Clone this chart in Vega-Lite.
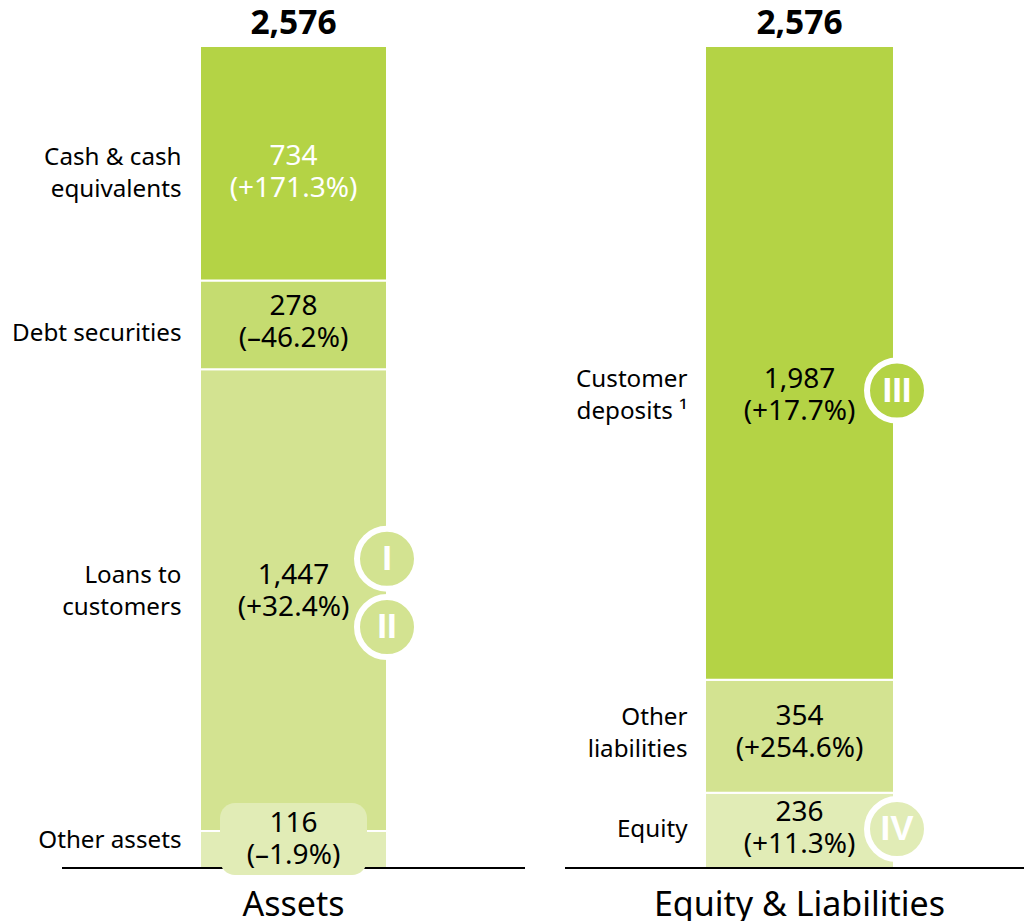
{"$schema":"https://vega.github.io/schema/vega-lite/v6.json","width":1024,"height":921,"autosize":"none","padding":0,"background":"white","view":{"stroke":null},"config":{"text":{"font":"Noto Sans"},"axis":{"labelFont":"Noto Sans"}},"datasets":{"segments":[{"column":"Assets","item":"Other assets","start":0,"end":116,"share":"4"},{"column":"Assets","item":"Loans to customers","start":116,"end":1563,"share":"3"},{"column":"Assets","item":"Debt securities","start":1563,"end":1841,"share":"2"},{"column":"Assets","item":"Cash & cash equivalents","start":1841,"end":2576,"share":"1"},{"column":"Equity & Liabilities","item":"Equity","start":0,"end":236,"share":"4"},{"column":"Equity & Liabilities","item":"Other liabilities","start":236,"end":590,"share":"3"},{"column":"Equity & Liabilities","item":"Customer deposits","start":590,"end":2576,"share":"1"}],"names":[{"column":"Assets","name":"Cash & cash\nequivalents","at":2225},{"column":"Assets","name":"Debt securities","at":1674},{"column":"Assets","name":"Loans to\ncustomers","at":915},{"column":"Assets","name":"Other assets","at":85},{"column":"Equity & Liabilities","name":"Customer\ndeposits ¹","at":1530},{"column":"Equity & Liabilities","name":"Other\nliabilities","at":470},{"column":"Equity & Liabilities","name":"Equity","at":118}],"values":[{"column":"Assets","label":"734\n(+171.3%)","at":2228,"tone":"light"},{"column":"Assets","label":"278\n(–46.2%)","at":1758,"tone":"dark"},{"column":"Assets","label":"1,447\n(+32.4%)","at":915,"tone":"dark"},{"column":"Assets","label":"116\n(–1.9%)","at":138,"tone":"dark"},{"column":"Equity & Liabilities","label":"1,987\n(+17.7%)","at":1530,"tone":"dark"},{"column":"Equity & Liabilities","label":"354\n(+254.6%)","at":473,"tone":"dark"},{"column":"Equity & Liabilities","label":"236\n(+11.3%)","at":173,"tone":"dark"}],"badges":[{"column":"Assets","badge":"I","at":969,"share":"3"},{"column":"Assets","badge":"II","at":755,"share":"3"},{"column":"Equity & Liabilities","badge":"III","at":1496,"share":"1"},{"column":"Equity & Liabilities","badge":"IV","at":122,"share":"4"}],"totals":[{"column":"Assets","total":"2,576","at":2576},{"column":"Equity & Liabilities","total":"2,576","at":2576}],"base":[{"column":"Assets","at":0},{"column":"Equity & Liabilities","at":0}],"box":[{"column":"Assets","low":-22,"high":204}]},"layer":[{"data":{"name":"segments"},"mark":{"type":"bar","stroke":"white","strokeWidth":2},"encoding":{"x":{"field":"column","type":"nominal","sort":null,"scale":{"domain":["Assets","Equity & Liabilities"],"range":[40.5,1052.5],"paddingInner":0.632,"paddingOuter":0.316},"axis":{"title":null,"domain":false,"ticks":false,"labelAngle":0,"labelFontSize":34,"labelColor":"black","labelPadding":20,"offset":-53,"labelOverlap":false,"labelLimit":500}},"y":{"field":"end","type":"quantitative","scale":{"domain":[-166.1,2720.1],"range":[921,0],"nice":false,"zero":false},"axis":null},"y2":{"field":"start"},"size":{"condition":{"test":"datum.column === 'Assets'","value":187},"value":189},"fill":{"field":"share","type":"nominal","legend":null,"scale":{"domain":["1","2","3","4"],"range":["#B4D345","#C5DC70","#D3E391","#E1ECB6"]}}}},{"data":{"name":"base"},"mark":{"type":"tick","orient":"horizontal","thickness":2,"color":"black","opacity":1},"encoding":{"x":{"field":"column","type":"nominal","sort":null},"y":{"field":"at","type":"quantitative"},"size":{"condition":{"test":"datum.column === 'Assets'","value":463},"value":469}}},{"data":{"name":"box"},"mark":{"type":"bar","cornerRadius":15,"fill":"#E1ECB6"},"encoding":{"x":{"field":"column","type":"nominal","sort":null},"y":{"field":"high","type":"quantitative"},"y2":{"field":"low"},"size":{"value":147}}},{"data":{"name":"names"},"mark":{"type":"text","align":"right","baseline":"middle","dx":-112,"fontSize":24.2,"lineHeight":32,"lineBreak":"\n","color":"black"},"encoding":{"x":{"field":"column","type":"nominal","sort":null},"y":{"field":"at","type":"quantitative"},"text":{"field":"name"}}},{"data":{"name":"values"},"mark":{"type":"text","align":"center","baseline":"middle","fontSize":28,"lineHeight":32,"lineBreak":"\n"},"encoding":{"x":{"field":"column","type":"nominal","sort":null},"y":{"field":"at","type":"quantitative"},"text":{"field":"label"},"color":{"field":"tone","type":"nominal","legend":null,"scale":{"domain":["light","dark"],"range":["white","black"]}}}},{"data":{"name":"totals"},"mark":{"type":"text","align":"center","baseline":"middle","fontSize":33.5,"fontWeight":"bold","dy":-22,"color":"black"},"encoding":{"x":{"field":"column","type":"nominal","sort":null},"y":{"field":"at","type":"quantitative"},"text":{"field":"total"}}},{"data":{"name":"badges"},"transform":[{"filter":"datum.column === 'Assets'"}],"layer":[{"mark":{"type":"point","filled":true,"shape":"circle","size":3600,"stroke":"white","strokeWidth":6,"opacity":1,"strokeOpacity":1,"xOffset":93.5},"encoding":{"fill":{"field":"share","type":"nominal","legend":null}}},{"mark":{"type":"text","align":"center","baseline":"middle","font":"Liberation Sans","fontSize":35,"fontWeight":"bold","color":"white","xOffset":93.5},"encoding":{"text":{"field":"badge"}}}],"encoding":{"x":{"field":"column","type":"nominal","sort":null},"y":{"field":"at","type":"quantitative"}}},{"data":{"name":"badges"},"transform":[{"filter":"datum.column !== 'Assets'"}],"layer":[{"mark":{"type":"point","filled":true,"shape":"circle","size":3600,"stroke":"white","strokeWidth":6,"opacity":1,"strokeOpacity":1,"xOffset":97.5},"encoding":{"fill":{"field":"share","type":"nominal","legend":null}}},{"mark":{"type":"text","align":"center","baseline":"middle","font":"Liberation Sans","fontSize":35,"fontWeight":"bold","color":"white","xOffset":97.5},"encoding":{"text":{"field":"badge"}}}],"encoding":{"x":{"field":"column","type":"nominal","sort":null},"y":{"field":"at","type":"quantitative"}}}]}
